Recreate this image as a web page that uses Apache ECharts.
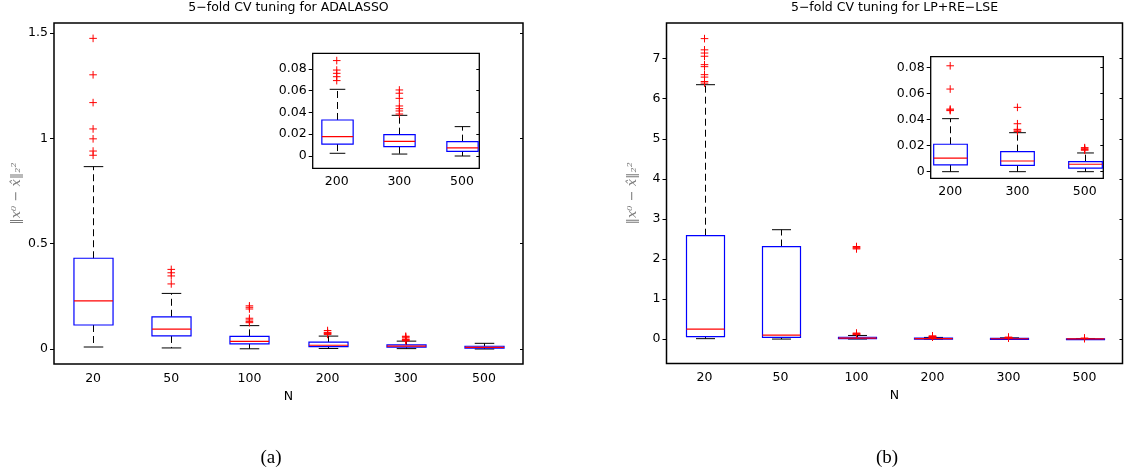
<!DOCTYPE html>
<html><head><meta charset="utf-8">
<script src="https://cdn.jsdelivr.net/npm/echarts@6/dist/echarts.min.js"></script>
<style>html,body{margin:0;padding:0;background:#fff}#c{width:1137px;height:474px}</style>
</head><body><div id="c"></div>
<script>
// ---- data ----
const nLabels = ['20', '50', '100', '200', '300', '500'];
const insetLabels = ['200', '300', '500'];
// each row: [lower whisker, Q1, median, Q3, upper whisker]
const adaBox = [
  [0.0095, 0.114, 0.229, 0.431, 0.866],
  [0.005, 0.062, 0.094, 0.153, 0.264],
  [0.001, 0.024, 0.036, 0.060, 0.111],
  [0.0025, 0.011, 0.0178, 0.0331, 0.0613],
  [0.0018, 0.0086, 0.0135, 0.0196, 0.0374],
  [0.0, 0.0043, 0.0074, 0.0132, 0.0270]
];
const adaOut = [
  [1.475, 1.302, 1.17, 1.045, 0.998, 0.94, 0.92],
  [0.378, 0.362, 0.347, 0.309],
  [0.205, 0.198, 0.19, 0.146, 0.138, 0.13, 0.125],
  [0.0877, 0.079, 0.076, 0.0729, 0.0693],
  [0.0607, 0.0577, 0.053, 0.046, 0.0435, 0.0414, 0.0386],
  []
];
const lpBox = [
  [0.01, 0.06, 0.25, 2.58, 6.35],
  [0.0, 0.04, 0.10, 2.31, 2.73],
  [0.001, 0.012, 0.025, 0.045, 0.09],
  [0.0, 0.0052, 0.0105, 0.0211, 0.0408],
  [0.0, 0.0049, 0.0082, 0.0154, 0.030],
  [0.0, 0.0028, 0.0057, 0.0077, 0.0144]
];
const lpOut = [
  [7.5, 7.22, 7.14, 7.06, 6.85, 6.8, 6.6, 6.54, 6.43, 6.39],
  [],
  [2.31, 2.29, 2.27, 2.25, 0.15, 0.135, 0.12, 0.11],
  [0.0815, 0.0636, 0.0482, 0.0475, 0.047],
  [0.0495, 0.0369, 0.0326, 0.032, 0.031],
  [0.0185, 0.018, 0.017, 0.0165]
];
const adaYTicks = [0, 0.5, 1, 1.5];
const lpYTicks = [0, 1, 2, 3, 4, 5, 6, 7];
const insetYTicks = [0, 0.02, 0.04, 0.06, 0.08];
const insetXTicks = [1, 2, 3];

// ---- rendering ----
const FONT = 'DejaVu Sans';
const BOX_W = 0.5;

function renderBox(params, api) {
  const x = api.value(0);
  const v = [1, 2, 3, 4, 5].map(i => api.value(i));
  const w = api.size([1, 0])[0] * BOX_W;
  const p = v.map(val => api.coord([x, val]));
  const cx = Math.round(p[0][0]) + 0.5;
  const y = p.map(q => q[1]);
  const cw = w / 4;
  const black = {stroke: '#000', lineWidth: 1};
  return {
    type: 'group',
    children: [
      {type: 'line', shape: {x1: cx, y1: y[3], x2: cx, y2: y[4]}, style: {stroke: '#000', lineWidth: 1, lineDash: [7, 4]}},
      {type: 'line', shape: {x1: cx, y1: y[1], x2: cx, y2: y[0]}, style: {stroke: '#000', lineWidth: 1, lineDash: [7, 4]}},
      {type: 'line', shape: {x1: cx - cw, y1: y[4], x2: cx + cw, y2: y[4]}, style: black},
      {type: 'line', shape: {x1: cx - cw, y1: y[0], x2: cx + cw, y2: y[0]}, style: black},
      {type: 'rect', shape: {x: cx - w / 2, y: y[3], width: w, height: Math.max(y[1] - y[3], 1)}, style: {fill: 'none', stroke: '#0000ff', lineWidth: 1.2}},
      {type: 'line', shape: {x1: cx - w / 2, y1: y[2], x2: cx + w / 2, y2: y[2]}, style: {stroke: '#ff0000', lineWidth: 1.2}}
    ]
  };
}
function renderPlus(params, api) {
  const p = api.coord([api.value(0), api.value(1)]);
  const s = 3.8;
  const st = {stroke: '#ff0000', lineWidth: 1};
  return {
    type: 'group',
    children: [
      {type: 'line', shape: {x1: p[0] - s, y1: p[1], x2: p[0] + s, y2: p[1]}, style: st},
      {type: 'line', shape: {x1: p[0], y1: p[1] - s, x2: p[0], y2: p[1] + s}, style: st}
    ]
  };
}

function boxData(box, offset, xStart) {
  return box.slice(offset).map((b, i) => [i + xStart].concat(b));
}
function outData(out, offset, xStart) {
  const d = [];
  out.slice(offset).forEach((arr, i) => arr.forEach(v => d.push([i + xStart, v])));
  return d;
}

const labelStyle = {color: '#000', fontFamily: FONT, fontSize: 12.5};
const yName = '‖x⁰ − x̂‖₂²';
const yNameStyle = {color: '#7a7a7a', fontFamily: 'DejaVu Serif', fontStyle: 'italic', fontSize: 13};

function yAxes(gridIndex, min, max, ticks, fmt, withName, nameGap) {
  return [
    {
      type: 'value', gridIndex, min, max, position: 'left',
      splitLine: {show: false},
      axisLine: {show: false},
      axisTick: {show: true, inside: false, length: 4, customValues: ticks, lineStyle: {color: '#000'}},
      axisLabel: Object.assign({customValues: ticks, margin: 6, formatter: fmt}, labelStyle),
      name: withName ? yName : '',
      nameLocation: 'middle', nameRotate: 90, nameGap: nameGap || 30,
      nameTextStyle: yNameStyle
    },
    {
      type: 'value', gridIndex, min, max, position: 'right',
      splitLine: {show: false},
      axisLine: {show: false},
      axisTick: {show: true, inside: true, length: 3, customValues: ticks, lineStyle: {color: '#000'}},
      axisLabel: {show: false}
    }
  ];
}
const mainFmt = v => String(v);
const insetFmt = v => (v === 0 ? '0' : v.toFixed(2));

const option = {
  animation: false,
  backgroundColor: '#fff',
  grid: [
    {left: 54, top: 23, width: 469, height: 341, show: true, borderColor: '#000', borderWidth: 1.5, backgroundColor: '#fff'},
    {left: 312.7, top: 53.3, width: 166.6, height: 115, show: true, borderColor: '#000', borderWidth: 1.3, backgroundColor: '#fff'},
    {left: 666.5, top: 23, width: 456, height: 340.5, show: true, borderColor: '#000', borderWidth: 1.5, backgroundColor: '#fff'},
    {left: 930.7, top: 56.7, width: 172.6, height: 121.6, show: true, borderColor: '#000', borderWidth: 1.3, backgroundColor: '#fff'}
  ],
  xAxis: [
    {type: 'category', gridIndex: 0, data: nLabels, boundaryGap: true,
      axisLine: {show: false}, axisTick: {show: false}, splitLine: {show: false},
      axisLabel: Object.assign({margin: 8}, labelStyle),
      name: 'N', nameLocation: 'middle', nameGap: 21, nameTextStyle: {color: '#000', fontFamily: FONT, fontSize: 12.5}},
    {type: 'value', gridIndex: 1, min: 0.616, max: 3.277,
      axisLine: {show: false}, axisTick: {show: false}, splitLine: {show: false},
      axisLabel: Object.assign({customValues: insetXTicks, margin: 7, formatter: v => insetLabels[Math.round(v) - 1]}, labelStyle)},
    {type: 'category', gridIndex: 2, data: nLabels, boundaryGap: true,
      axisLine: {show: false}, axisTick: {show: false}, splitLine: {show: false},
      axisLabel: Object.assign({margin: 8}, labelStyle),
      name: 'N', nameLocation: 'middle', nameGap: 21, nameTextStyle: {color: '#000', fontFamily: FONT, fontSize: 12.5}},
    {type: 'value', gridIndex: 3, min: 0.71, max: 3.277,
      axisLine: {show: false}, axisTick: {show: false}, splitLine: {show: false},
      axisLabel: Object.assign({customValues: insetXTicks, margin: 7, formatter: v => insetLabels[Math.round(v) - 1]}, labelStyle)}
  ],
  yAxis: [].concat(
    yAxes(0, -0.0712, 1.548, adaYTicks, mainFmt, true, 31),
    yAxes(1, -0.0113, 0.0944, insetYTicks, insetFmt, false),
    yAxes(2, -0.61, 7.89, lpYTicks, mainFmt, true, 27),
    yAxes(3, -0.0051, 0.0885, insetYTicks, insetFmt, false)
  ),
  series: [
    {type: 'custom', xAxisIndex: 0, yAxisIndex: 0, data: boxData(adaBox, 0, 0), renderItem: renderBox, silent: true, z: 2},
    {type: 'custom', xAxisIndex: 0, yAxisIndex: 0, data: outData(adaOut, 0, 0), renderItem: renderPlus, silent: true, z: 3},
    {type: 'custom', xAxisIndex: 1, yAxisIndex: 2, data: boxData(adaBox, 3, 1), renderItem: renderBox, silent: true, z: 2},
    {type: 'custom', xAxisIndex: 1, yAxisIndex: 2, data: outData(adaOut, 3, 1), renderItem: renderPlus, silent: true, z: 3},
    {type: 'custom', xAxisIndex: 2, yAxisIndex: 4, data: boxData(lpBox, 0, 0), renderItem: renderBox, silent: true, z: 2},
    {type: 'custom', xAxisIndex: 2, yAxisIndex: 4, data: outData(lpOut, 0, 0), renderItem: renderPlus, silent: true, z: 3},
    {type: 'custom', xAxisIndex: 3, yAxisIndex: 6, data: boxData(lpBox, 3, 1), renderItem: renderBox, silent: true, z: 2},
    {type: 'custom', xAxisIndex: 3, yAxisIndex: 6, data: outData(lpOut, 3, 1), renderItem: renderPlus, silent: true, z: 3}
  ],
  graphic: [
    {type: 'text', x: 288.5, y: 8, style: {text: '5−fold CV tuning for ADALASSO', align: 'center', verticalAlign: 'middle', fill: '#000', font: '12.5px "DejaVu Sans"'}},
    {type: 'text', x: 894.5, y: 8, style: {text: '5−fold CV tuning for LP+RE−LSE', align: 'center', verticalAlign: 'middle', fill: '#000', font: '12.5px "DejaVu Sans"'}},
    {type: 'text', x: 271, y: 458, style: {text: '(a)', align: 'center', verticalAlign: 'middle', fill: '#000', font: '19px "Liberation Serif"'}},
    {type: 'text', x: 887, y: 458, style: {text: '(b)', align: 'center', verticalAlign: 'middle', fill: '#000', font: '19px "Liberation Serif"'}}
  ]
};

const chart = echarts.init(document.getElementById('c'), null, {renderer: 'canvas'});
chart.setOption(option);
</script>
</body></html>
